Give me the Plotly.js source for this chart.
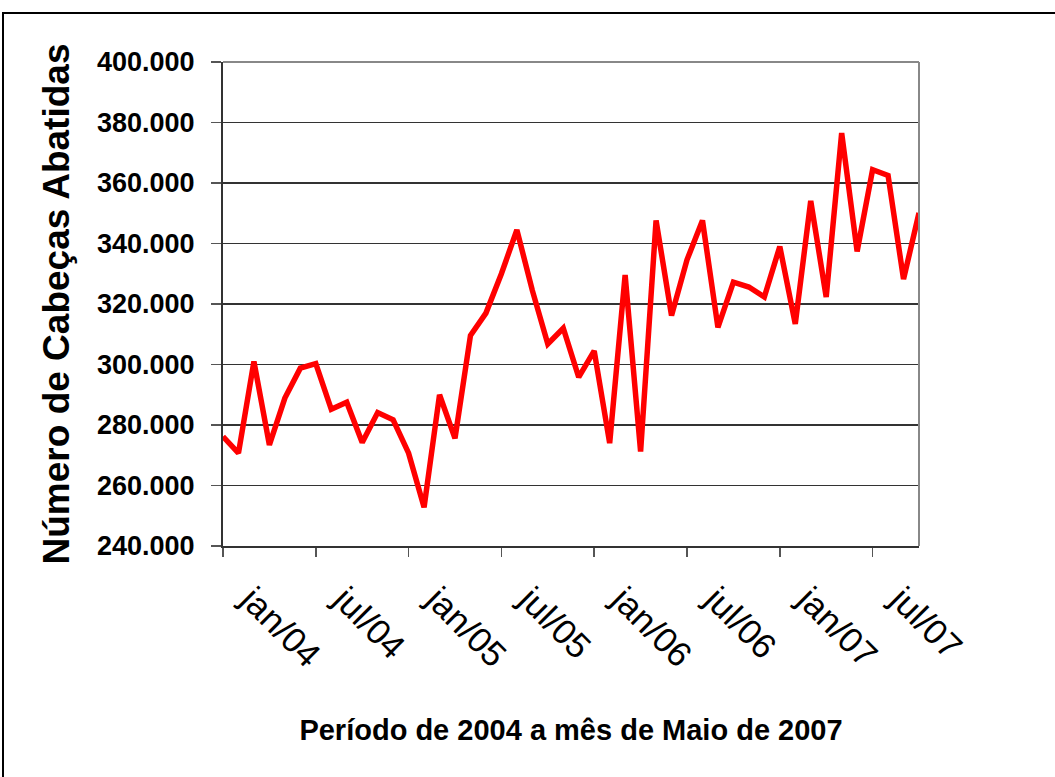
<!DOCTYPE html>
<html>
<head>
<meta charset="utf-8">
<script src="https://cdn.plot.ly/plotly-3.0.1.min.js"></script>
<style>
  html, body { margin: 0; padding: 0; background: #fff; overflow: hidden; }
  #chart { width: 1055px; height: 777px; position: absolute; left: 0; top: 0; }
  #frame { position: absolute; left: 2px; top: 12px; width: 1200px; height: 900px;
           border: 2px solid #000; pointer-events: none; }
</style>
</head>
<body>
<div id="chart"></div>
<div id="frame"></div>
<script>
// Data
const years = ['04', '05', '06', '07'];
const monthNames = ['jan', 'fev', 'mar', 'abr', 'mai', 'jun', 'jul', 'ago', 'set', 'out', 'nov', 'dez'];
const cabecas = [
  276200, 270700, 301000, 273400, 288900, 298800, 300300, 285200, 287500, 274200,
  284100, 281700, 270700, 252800, 290000, 275600, 309600, 317000, 330000, 344500,
  324500, 306800, 312000, 295800, 304500, 274000, 329600, 271200, 347600, 316200,
  334600, 347600, 312300, 327200, 325600, 322300, 339000, 313400, 354100, 322300,
  376500, 337400, 364400, 362500, 328200, 350100
];
const yTicks = [240000, 260000, 280000, 300000, 320000, 340000, 360000, 380000, 400000];
const xTitle = 'Período de 2004 a mês de Maio de 2007';
const yTitle = 'Número de Cabeças Abatidas';

// month category labels
const meses = [];
for (const y of years) for (const m of monthNames) meses.push(m + '/' + y);
const categorias = meses.slice(0, cabecas.length);
const xTickVals = categorias.filter((c, i) => i % 6 === 0);

const FONT = 'Liberation Sans, Arial, sans-serif';

const trace = {
  type: 'scatter',
  mode: 'lines',
  x: categorias,
  y: cabecas,
  line: { color: '#FF0000', width: 5.5 },
  cliponaxis: false,
  hoverinfo: 'x+y'
};

const layout = {
  width: 1055,
  height: 777,
  margin: { l: 223, r: 136, t: 62, b: 231 },
  paper_bgcolor: '#ffffff',
  plot_bgcolor: '#ffffff',
  separators: ',.',
  showlegend: false,
  xaxis: {
    type: 'category',
    range: [0, cabecas.length - 1],
    tickmode: 'array',
    tickvals: xTickVals,
    ticktext: xTickVals,
    tickangle: 45,
    ticks: 'outside',
    ticklen: 9,
    tickwidth: 1.5,
    tickcolor: '#555',
    ticklabelstandoff: 8,
    ticklabelshift: 28,
    showgrid: false,
    showline: true,
    linecolor: '#333',
    linewidth: 2,
    zeroline: false,
    tickfont: { family: FONT, size: 35, color: '#000' },
    title: { text: xTitle, font: { family: FONT, size: 29, color: '#000', weight: 'bold' }, standoff: 46 }
  },
  yaxis: {
    range: [240000, 400000],
    tickmode: 'array',
    tickvals: yTicks,
    tickformat: ',d',
    ticks: 'outside',
    ticklen: 10,
    tickwidth: 1.5,
    tickcolor: '#555',
    ticklabelstandoff: 11,
    showgrid: true,
    gridcolor: '#333',
    gridwidth: 1.5,
    showline: true,
    linecolor: '#333',
    linewidth: 2,
    zeroline: false,
    tickfont: { family: FONT, size: 27, color: '#000', weight: 'bold' },
    title: { text: yTitle, font: { family: FONT, size: 37, color: '#000', weight: 'bold' }, standoff: 16 }
  },
  shapes: [
    { type: 'line', xref: 'paper', yref: 'paper', x0: 0, x1: 1, y0: 1, y1: 1, line: { color: '#888', width: 2 } },
    { type: 'line', xref: 'paper', yref: 'paper', x0: 1, x1: 1, y0: 0, y1: 1, line: { color: '#888', width: 2 } }
  ]
};

Plotly.newPlot('chart', [trace], layout, { displayModeBar: false, staticPlot: true });
</script>
</body>
</html>
